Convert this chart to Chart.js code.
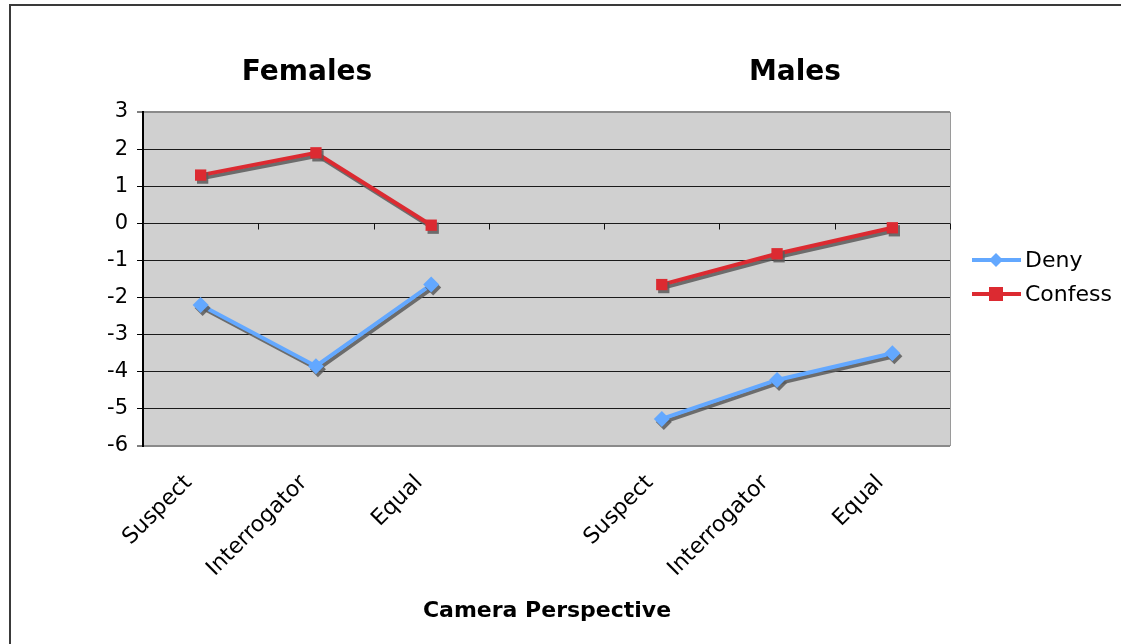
<!DOCTYPE html>
<html>
<head>
<meta charset="utf-8">
<script src="https://cdn.jsdelivr.net/npm/chart.js@4"></script>
<style>
html,body{margin:0;padding:0;background:#fff;}
#wrap{position:relative;width:1121px;height:644px;}
</style>
</head>
<body>
<div id="wrap"><canvas id="c" width="1121" height="644"></canvas></div>
<script>
const categories = ['Suspect','Interrogator','Equal','','Suspect','Interrogator','Equal'];
const denyValues = [-2.2, -3.85, -1.65, null, -5.27, -4.22, -3.5];
const confessValues = [1.3, 1.9, -0.05, null, -1.65, -0.82, -0.12];
const yTicks = [3,2,1,0,-1,-2,-3,-4,-5,-6];
const groupTitles = ['Females','Males'];
const axisTitle = 'Camera Perspective';

const FONT = "'DejaVu Sans', Verdana, sans-serif";
const DENY = '#63A8FF';
const CONFESS = '#DC2A31';

const shadowPlugin = {
  id: 'shadow',
  beforeDatasetDraw(chart) {
    const ctx = chart.ctx;
    ctx.save();
    ctx.shadowColor = 'rgba(90,90,90,0.85)';
    ctx.shadowOffsetX = 2;
    ctx.shadowOffsetY = 3;
    ctx.shadowBlur = 0;
  },
  afterDatasetDraw(chart) { chart.ctx.restore(); }
};

const decorPlugin = {
  id: 'decor',
  beforeDraw(chart) {
    const ctx = chart.ctx, a = chart.chartArea;
    ctx.save();
    ctx.fillStyle = '#fff';
    ctx.fillRect(0,0,chart.width,chart.height);
    ctx.strokeStyle = '#3a3a3a';
    ctx.lineWidth = 2;
    ctx.strokeRect(10, 5, chart.width + 20, chart.height + 20);
    ctx.fillStyle = '#D0D0D0';
    ctx.fillRect(a.left, a.top, a.right - a.left, a.bottom - a.top);
    ctx.strokeStyle = '#9a9a9a';
    ctx.lineWidth = 1;
    ctx.beginPath();
    ctx.moveTo(a.right + 0.5, a.top);
    ctx.lineTo(a.right + 0.5, a.bottom);
    ctx.stroke();
    ctx.restore();
  },
  afterDatasetsDraw(chart) {
    const ctx = chart.ctx, x = chart.scales.x, y = chart.scales.y;
    ctx.save();
    const y0 = Math.round(y.getPixelForValue(0)) + 0.5;
    const step = x.getPixelForValue(1) - x.getPixelForValue(0);
    ctx.strokeStyle = '#111';
    ctx.lineWidth = 1;
    ctx.beginPath();
    for (let i = 0; i <= categories.length; i++) {
      const px = Math.round(x.getPixelForValue(0) - step/2 + i*step) + 0.5;
      ctx.moveTo(px, y0);
      ctx.lineTo(px, y0 + 6);
    }
    ctx.stroke();
    ctx.restore();
  },
  afterDraw(chart) {
    const ctx = chart.ctx;
    ctx.save();
    ctx.fillStyle = '#000';
    ctx.textAlign = 'center';
    ctx.textBaseline = 'middle';
    ctx.font = 'bold 28px ' + FONT;
    ctx.fillText(groupTitles[0], 307, 73);
    ctx.fillText(groupTitles[1], 795, 73);
    ctx.font = 'bold 22px ' + FONT;
    ctx.fillText(axisTitle, 547, 611);
    const items = [
      {label: chart.data.datasets[0].label, color: DENY, style: 'diamond', y: 260},
      {label: chart.data.datasets[1].label, color: CONFESS, style: 'square', y: 294}
    ];
    ctx.textAlign = 'left';
    ctx.font = '22px ' + FONT;
    items.forEach(it => {
      ctx.strokeStyle = it.color;
      ctx.lineWidth = 4;
      ctx.beginPath();
      ctx.moveTo(972, it.y);
      ctx.lineTo(1021, it.y);
      ctx.stroke();
      ctx.fillStyle = it.color;
      if (it.style === 'diamond') {
        ctx.beginPath();
        ctx.moveTo(996, it.y - 7);
        ctx.lineTo(1003, it.y);
        ctx.lineTo(996, it.y + 7);
        ctx.lineTo(989, it.y);
        ctx.closePath();
        ctx.fill();
      } else {
        ctx.fillRect(989, it.y - 7, 14, 14);
      }
      ctx.fillStyle = '#000';
      ctx.fillText(it.label, 1025, it.y + 1);
    });
    ctx.restore();
  }
};

new Chart(document.getElementById('c'), {
  type: 'line',
  data: {
    labels: categories,
    datasets: [
      {
        label: 'Deny',
        data: denyValues,
        borderColor: DENY,
        backgroundColor: DENY,
        borderWidth: 4,
        pointStyle: 'rectRot',
        pointRadius: 8,
        pointHoverRadius: 8,
        pointBorderWidth: 0,
        spanGaps: false,
        tension: 0
      },
      {
        label: 'Confess',
        data: confessValues,
        borderColor: CONFESS,
        backgroundColor: CONFESS,
        borderWidth: 4,
        pointStyle: 'rect',
        pointRadius: 8,
        pointHoverRadius: 8,
        pointBorderWidth: 0,
        spanGaps: false,
        tension: 0
      }
    ]
  },
  options: {
    responsive: false,
    animation: false,
    events: [],
    layout: { padding: { left: 0, top: 112, right: 171, bottom: 0 } },
    plugins: { legend: { display: false }, tooltip: { enabled: false }, title: { display: false } },
    scales: {
      x: {
        type: 'category',
        offset: true,
        grid: { display: false, drawTicks: false },
        border: { display: false },
        ticks: {
          color: '#000',
          font: { family: FONT, size: 22 },
          maxRotation: 45,
          minRotation: 45,
          autoSkip: false,
          padding: 24,
          labelOffset: -12
        },
        afterFit(s) { s.height = 198; }
      },
      y: {
        min: -6,
        max: 3,
        afterBuildTicks(s) { s.ticks = yTicks.map(v => ({ value: v })); },
        grid: {
          color: ctx => (ctx.tick && (ctx.tick.value === 3 || ctx.tick.value === -6)) ? '#8a8a8a' : '#1a1a1a',
          lineWidth: ctx => (ctx.tick && (ctx.tick.value === 3 || ctx.tick.value === -6)) ? 2 : 1,
          tickColor: '#000',
          tickLength: 6,
          tickWidth: 1
        },
        border: { display: true, color: '#000', width: 2 },
        ticks: {
          color: '#000',
          font: { family: FONT, size: 21 },
          padding: 9
        },
        afterFit(s) { s.width = 143; }
      }
    }
  },
  plugins: [decorPlugin, shadowPlugin]
});
</script>
</body>
</html>
